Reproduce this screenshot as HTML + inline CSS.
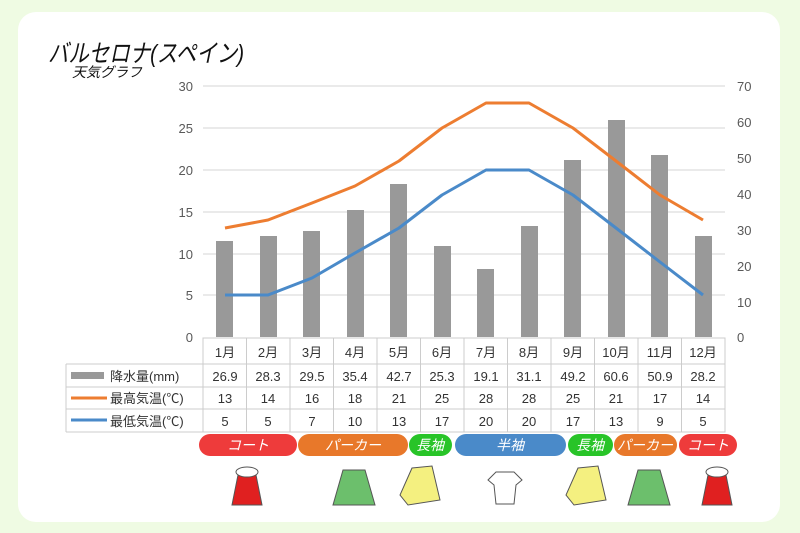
<!DOCTYPE html><html><head><meta charset="utf-8"><style>
body{margin:0;width:800px;height:533px;background:#effbe3;font-family:"Liberation Sans","Noto Sans CJK JP",sans-serif;overflow:hidden}
.card{position:absolute;left:18px;top:12px;width:762px;height:510px;background:#fff;border-radius:18px}
</style></head><body><div class="card"></div>
<svg width="800" height="533" style="position:absolute;left:0;top:0" font-family="Liberation Sans, Noto Sans CJK JP, sans-serif">
<text x="48" y="62" font-size="25" font-style="italic" fill="#111" textLength="196" lengthAdjust="spacingAndGlyphs">バルセロナ(スペイン)</text>
<text x="72" y="77" font-size="14" font-style="italic" fill="#111">天気グラフ</text>
<g stroke="#d4d4d4" stroke-width="1">
<line x1="203" y1="86" x2="725" y2="86"/><line x1="203" y1="128" x2="725" y2="128"/><line x1="203" y1="170" x2="725" y2="170"/><line x1="203" y1="212" x2="725" y2="212"/><line x1="203" y1="254" x2="725" y2="254"/><line x1="203" y1="295" x2="725" y2="295"/>
</g>
<g font-size="13" fill="#595959" text-anchor="end">
<text x="193" y="91">30</text><text x="193" y="133">25</text><text x="193" y="175">20</text><text x="193" y="217">15</text><text x="193" y="259">10</text><text x="193" y="300">5</text><text x="193" y="342">0</text>
</g>
<g font-size="13" fill="#595959" text-anchor="start">
<text x="737" y="91">70</text><text x="737" y="127">60</text><text x="737" y="163">50</text><text x="737" y="199">40</text><text x="737" y="235">30</text><text x="737" y="271">20</text><text x="737" y="307">10</text><text x="737" y="342">0</text>
</g>
<g fill="#999">
<rect x="216" y="241" width="17" height="96"/><rect x="260" y="236" width="17" height="101"/><rect x="303" y="231" width="17" height="106"/><rect x="347" y="210" width="17" height="127"/><rect x="390" y="184" width="17" height="153"/><rect x="434" y="246" width="17" height="91"/><rect x="477" y="269" width="17" height="68"/><rect x="521" y="226" width="17" height="111"/><rect x="564" y="160" width="17" height="177"/><rect x="608" y="120" width="17" height="217"/><rect x="651" y="155" width="17" height="182"/><rect x="695" y="236" width="17" height="101"/>
</g>
<polyline fill="none" stroke="#ed7d31" stroke-width="3" stroke-linejoin="round" points="225,228 268,220 312,203 355,186 399,161 442,128 486,103 529,103 573,128 616,161 660,195 703,220"/>
<polyline fill="none" stroke="#4a8ac9" stroke-width="3" stroke-linejoin="round" points="225,295 268,295 312,278 355,253 399,228 442,195 486,170 529,170 573,195 616,228 660,262 703,295"/>
<g stroke="#ccc" fill="none">
<rect x="203" y="338" width="522" height="94"/>
<line x1="66" y1="364" x2="725" y2="364"/><line x1="66" y1="387" x2="725" y2="387"/><line x1="66" y1="409" x2="725" y2="409"/>
<line x1="66" y1="364" x2="66" y2="432"/><line x1="66" y1="432" x2="203" y2="432"/>
<path d="M246.5 338V432M290 338V432M333.5 338V432M377 338V432M420.5 338V432M464 338V432M507.5 338V432M551 338V432M594.5 338V432M638 338V432M681.5 338V432"/>
</g>
<rect x="71" y="372" width="33" height="7" fill="#999"/>
<line x1="71" y1="398" x2="107" y2="398" stroke="#ed7d31" stroke-width="3"/>
<line x1="71" y1="420" x2="107" y2="420" stroke="#4a8ac9" stroke-width="3"/>
<g font-size="13" fill="#333"><text x="110" y="381">降水量(mm)</text><text x="110" y="403">最高気温(℃)</text><text x="110" y="426">最低気温(℃)</text></g>
<g font-size="13" fill="#333" text-anchor="middle">
<text x="225" y="357">1月</text><text x="268" y="357">2月</text><text x="312" y="357">3月</text><text x="355" y="357">4月</text><text x="399" y="357">5月</text><text x="442" y="357">6月</text><text x="486" y="357">7月</text><text x="529" y="357">8月</text><text x="573" y="357">9月</text><text x="616" y="357">10月</text><text x="660" y="357">11月</text><text x="703" y="357">12月</text>
<text x="225" y="381">26.9</text><text x="268" y="381">28.3</text><text x="312" y="381">29.5</text><text x="355" y="381">35.4</text><text x="399" y="381">42.7</text><text x="442" y="381">25.3</text><text x="486" y="381">19.1</text><text x="529" y="381">31.1</text><text x="573" y="381">49.2</text><text x="616" y="381">60.6</text><text x="660" y="381">50.9</text><text x="703" y="381">28.2</text>
<text x="225" y="403">13</text><text x="268" y="403">14</text><text x="312" y="403">16</text><text x="355" y="403">18</text><text x="399" y="403">21</text><text x="442" y="403">25</text><text x="486" y="403">28</text><text x="529" y="403">28</text><text x="573" y="403">25</text><text x="616" y="403">21</text><text x="660" y="403">17</text><text x="703" y="403">14</text>
<text x="225" y="426">5</text><text x="268" y="426">5</text><text x="312" y="426">7</text><text x="355" y="426">10</text><text x="399" y="426">13</text><text x="442" y="426">17</text><text x="486" y="426">20</text><text x="529" y="426">20</text><text x="573" y="426">17</text><text x="616" y="426">13</text><text x="660" y="426">9</text><text x="703" y="426">5</text>
</g>
<g>
<rect x="199" y="434" width="98" height="22" rx="11" fill="#ee3b3b"/>
<rect x="298" y="434" width="110" height="22" rx="11" fill="#e8782a"/>
<rect x="409" y="434" width="43" height="22" rx="11" fill="#28c428"/>
<rect x="455" y="434" width="111" height="22" rx="11" fill="#4a8ac9"/>
<rect x="568" y="434" width="45" height="22" rx="11" fill="#28c428"/>
<rect x="614" y="434" width="63" height="22" rx="11" fill="#e8782a"/>
<rect x="679" y="434" width="58" height="22" rx="11" fill="#ee3b3b"/>
</g>
<g font-size="14" fill="#fff" text-anchor="middle" font-style="italic">
<text x="248" y="450">コート</text><text x="353" y="450">パーカー</text><text x="430" y="450">長袖</text><text x="510" y="450">半袖</text><text x="590" y="450">長袖</text><text x="645" y="450">パーカー</text><text x="708" y="450">コート</text>
</g>
<g stroke="#555" stroke-width="1">
<path d="M238 475 L256 475 L262 505 L232 505 Z" fill="#e02020"/><ellipse cx="247" cy="472" rx="11" ry="5" fill="#fff"/>
<path d="M343 470 L365 470 L375 505 L333 505 Z" fill="#6cbf6c"/>
<path d="M412 468 L432 466 L440 500 L408 505 L400 495 Z" fill="#f4f080"/>
<path d="M496 472 L514 472 L522 480 L516 485 L514 504 L496 504 L494 485 L488 480 Z" fill="#fff"/>
<path d="M578 468 L598 466 L606 500 L574 505 L566 495 Z" fill="#f4f080"/>
<path d="M638 470 L660 470 L670 505 L628 505 Z" fill="#6cbf6c"/>
<path d="M708 475 L726 475 L732 505 L702 505 Z" fill="#e02020"/><ellipse cx="717" cy="472" rx="11" ry="5" fill="#fff"/>
</g>
</svg></body></html>
